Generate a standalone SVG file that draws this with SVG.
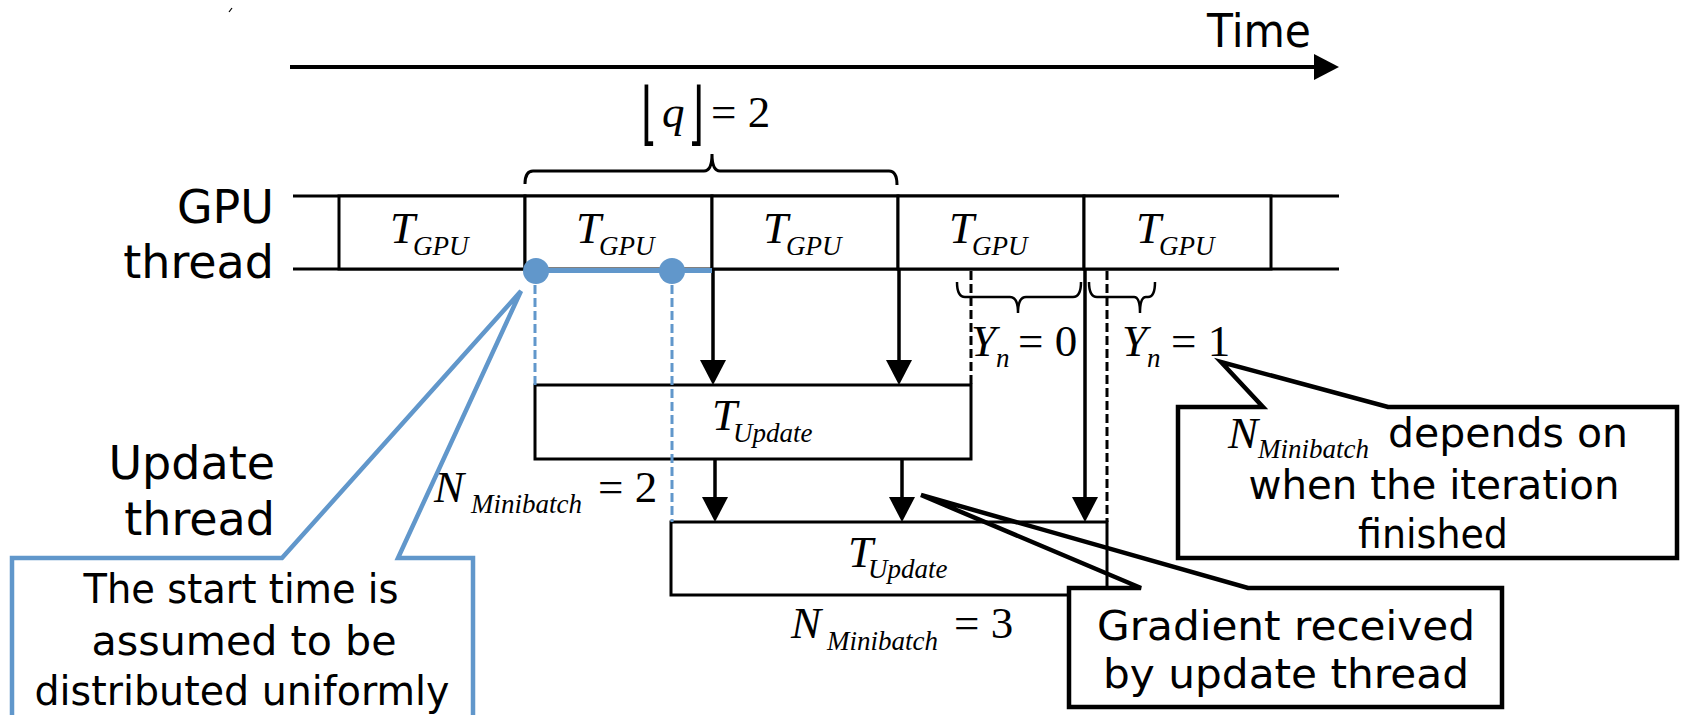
<svg xmlns="http://www.w3.org/2000/svg" width="1681" height="715" viewBox="0 0 1681 715">
<style>
.ln{stroke:#000;stroke-width:3;fill:none}
.box{stroke:#000;stroke-width:3;fill:#fff}
.arr{stroke:#000;stroke-width:3.5;fill:none;marker-end:url(#ah)}
.dash{stroke:#000;stroke-width:3;stroke-dasharray:9 4;fill:none}
.bdash{stroke:#6197CB;stroke-width:3;stroke-dasharray:9 4;fill:none}
.brace{stroke:#000;stroke-width:2.5;fill:none}
.lbl{font-family:"DejaVu Sans","Liberation Sans",sans-serif;font-size:46px;fill:#000}
.cal{font-family:"DejaVu Sans","Liberation Sans",sans-serif;font-size:41px;fill:#000;text-anchor:middle}
.sans{font-family:"DejaVu Sans","Liberation Sans",sans-serif;font-style:normal;font-size:41px}
.m{font-family:"Liberation Serif","Times New Roman",serif;font-style:italic;font-size:45px;fill:#000}
.ms{font-size:27px}
.mr{font-style:normal}
.fl{font-family:"DejaVu Sans",sans-serif;font-style:normal;font-size:46px;fill:#000}
</style>
<defs>
<marker id="ah" markerUnits="userSpaceOnUse" markerWidth="25" markerHeight="26" viewBox="0 0 25 26" refX="20" refY="13" orient="auto"><path d="M0,0 L25,13 L0,26 z" fill="#000"/></marker>
</defs>
<rect width="1681" height="715" fill="#fff"/>
<line x1="229" y1="12" x2="232" y2="8" stroke="#000" stroke-width="1.2"/>

<g id="time-axis">
<text class="lbl" x="1207" y="47" textLength="104" lengthAdjust="spacingAndGlyphs">Time</text>
<line x1="290" y1="67" x2="1334" y2="67" stroke="#000" stroke-width="4" marker-end="url(#ah)"/>
</g>

<g id="gpu-thread-label">
<text class="lbl" x="274" y="223" text-anchor="end">GPU</text>
<text class="lbl" x="274" y="278" text-anchor="end">thread</text>
</g>
<g id="update-thread-label">
<text class="lbl" x="275" y="479" text-anchor="end">Update</text>
<text class="lbl" x="275" y="535" text-anchor="end">thread</text>
</g>

<g id="gpu-row">
<line class="ln" x1="293" y1="196" x2="1339" y2="196"/>
<line class="ln" x1="293" y1="269" x2="1339" y2="269"/>
</g>
<g id="gpu1"><rect class="box" x="339" y="196" width="186" height="73"/><text class="m"><tspan x="390" y="243">T</tspan><tspan class="ms" x="413" y="255">GPU</tspan></text></g>
<g id="gpu2"><rect class="box" x="525" y="196" width="187" height="73"/><text class="m"><tspan x="576" y="243">T</tspan><tspan class="ms" x="599" y="255">GPU</tspan></text></g>
<g id="gpu3"><rect class="box" x="712" y="196" width="186" height="73"/><text class="m"><tspan x="763" y="243">T</tspan><tspan class="ms" x="786" y="255">GPU</tspan></text></g>
<g id="gpu4"><rect class="box" x="898" y="196" width="186" height="73"/><text class="m"><tspan x="949" y="243">T</tspan><tspan class="ms" x="972" y="255">GPU</tspan></text></g>
<g id="gpu5"><rect class="box" x="1084" y="196" width="187" height="73"/><text class="m"><tspan x="1136" y="243">T</tspan><tspan class="ms" x="1159" y="255">GPU</tspan></text></g>

<g id="q-label">
<path class="ln" d="M525,184 Q525,171 533,171 H704 Q712,171 712,154 Q712,171 720,171 H889 Q897,171 897,185"/>
<text class="fl" transform="translate(641,137) scale(0.9,1.5)">⌊</text>
<text class="fl" transform="translate(688,137) scale(0.9,1.5)">⌋</text>
<text class="m"><tspan x="662" y="127">q</tspan><tspan class="mr" x="711" y="127">= 2</tspan></text>
</g>

<g id="update1"><rect class="box" x="535" y="385" width="436" height="74"/><text class="m"><tspan x="712" y="430">T</tspan><tspan class="ms" x="733" y="442">Update</tspan></text></g>
<g id="update2"><rect class="box" x="671" y="522" width="436" height="73"/><text class="m"><tspan x="848" y="567">T</tspan><tspan class="ms" x="868" y="578">Update</tspan></text></g>

<g id="connectors">
<line class="arr" x1="713" y1="269" x2="713" y2="380"/>
<line class="arr" x1="899" y1="269" x2="899" y2="380"/>
<line class="arr" x1="715" y1="459" x2="715" y2="517"/>
<line class="arr" x1="902" y1="459" x2="902" y2="517"/>
<line class="arr" x1="1085" y1="269" x2="1085" y2="517"/>
<line class="dash" x1="971" y1="271" x2="971" y2="385"/>
<line class="dash" x1="1107" y1="271" x2="1107" y2="522"/>
<line class="bdash" x1="535" y1="272" x2="535" y2="385"/>
<line class="bdash" x1="672" y1="272" x2="672" y2="522"/>
<line x1="536" y1="270.5" x2="712" y2="270.5" stroke="#6197CB" stroke-width="5"/>
<circle cx="536" cy="271" r="13" fill="#6197CB"/>
<circle cx="672" cy="271" r="13" fill="#6197CB"/>
</g>

<g id="yn-braces">
<path class="brace" d="M957,282 Q957,297 965,297 H1010 Q1018,297 1018,313 Q1018,297 1026,297 H1073 Q1081,297 1081,282"/>
<path class="brace" d="M1089,282 Q1089,297 1097,297 H1134 Q1140,297 1140,313 Q1140,297 1146,297 H1148 Q1155,297 1155,282"/>
<text class="m"><tspan x="971" y="356">Y</tspan><tspan class="ms" x="996" y="367">n</tspan><tspan class="mr" x="1018" y="356">= 0</tspan></text>
<text class="m"><tspan x="1122" y="356">Y</tspan><tspan class="ms" x="1147" y="367">n</tspan><tspan class="mr" x="1171" y="356">= 1</tspan></text>
</g>

<g id="nmb2"><text class="m"><tspan x="434" y="502">N</tspan><tspan class="ms" x="471" y="513">Minibatch</tspan><tspan class="mr" x="598" y="502">= 2</tspan></text></g>
<g id="nmb3"><text class="m"><tspan x="791" y="638">N</tspan><tspan class="ms" x="827" y="650">Minibatch</tspan><tspan class="mr" x="954" y="638">= 3</tspan></text></g>

<g id="callout-start">
<rect x="12" y="558" width="461" height="170" fill="#fff"/>
<path d="M12,725 V558 H282 L521,291 L398,558 H473 V725" fill="none" stroke="#6197CB" stroke-width="4.5"/>
<text class="cal" x="241" y="603" textLength="315" lengthAdjust="spacingAndGlyphs">The start time is</text>
<text class="cal" x="244" y="655" textLength="305" lengthAdjust="spacingAndGlyphs">assumed to be</text>
<text class="cal" x="242" y="705" textLength="415" lengthAdjust="spacingAndGlyphs">distributed uniformly</text>
</g>

<g id="callout-nminibatch">
<rect x="1178" y="407" width="499" height="151" fill="#fff"/>
<path d="M1178,407 H1263 L1221,362 L1388,407 H1677 V558 H1178 Z" fill="none" stroke="#000" stroke-width="4.5"/>
<text class="m"><tspan x="1228" y="448">N</tspan><tspan class="ms" x="1258" y="458">Minibatch</tspan><tspan class="sans" x="1388" y="447">depends on</tspan></text>
<text class="cal" x="1434" y="499" textLength="371" lengthAdjust="spacingAndGlyphs">when the iteration</text>
<text class="cal" x="1433" y="548" textLength="150" lengthAdjust="spacingAndGlyphs">finished</text>
</g>

<g id="callout-gradient">
<rect x="1069" y="588" width="433" height="119" fill="#fff"/>
<path d="M1069,588 H1141 L921,495 L1248,588 H1502 V707 H1069 Z" fill="none" stroke="#000" stroke-width="4.5"/>
<text class="cal" x="1286" y="640" textLength="378" lengthAdjust="spacingAndGlyphs">Gradient received</text>
<text class="cal" x="1286" y="688" textLength="366" lengthAdjust="spacingAndGlyphs">by update thread</text>
</g>
</svg>
